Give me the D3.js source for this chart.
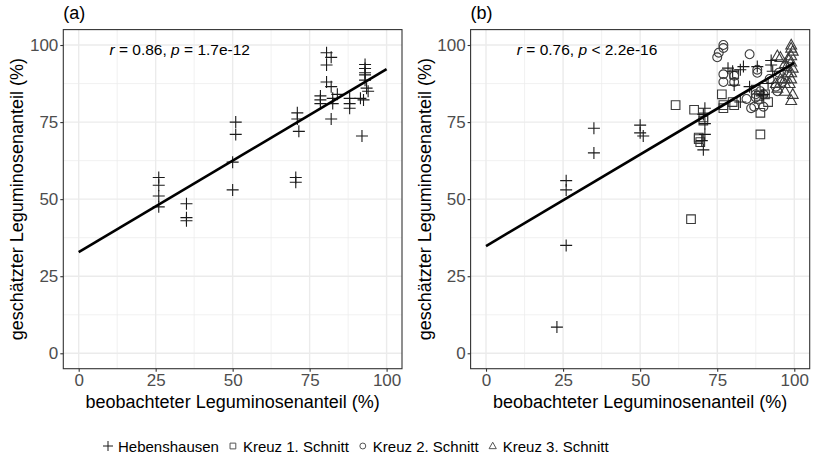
<!DOCTYPE html>
<html>
<head>
<meta charset="utf-8">
<script src="https://cdn.jsdelivr.net/npm/d3@7"></script>
<style>
  body { margin: 0; background: #fff; }
  text { font-family: "Liberation Sans", Arial, sans-serif; }
</style>
</head>
<body>
<div id="chart"></div>
<script>
// --- data ---
const ticks = [0, 25, 50, 75, 100];
const minorTicks = [12.5, 37.5, 62.5, 87.5];
const panelLabels = ["(a)", "(b)"];
const statR = ["0.86", "0.76"];
const statP = ["= 1.7e-12", "< 2.2e-16"];
const sites = ["Hebenshausen", "Kreuz 1. Schnitt", "Kreuz 2. Schnitt", "Kreuz 3. Schnitt"];
const fitIntercept = [32.8, 34.8];
const fitSlope = [0.594, 0.594];

// panel (a): Hebenshausen only
const aObs = [26, 26, 26, 26, 35, 35, 35, 51, 51, 50, 50, 71, 71, 71.5, 70.5, 70.5,
  80.5, 82, 80.5, 80.5, 82, 84, 78.5, 78.5, 78.5, 82.5, 82.5, 82, 88, 88, 88,
  91.5, 92.5, 93, 93, 93, 93, 93, 93.5, 92, 94];
const aEst = [57, 54.5, 51, 47.5, 48.5, 44, 43, 75, 71, 62, 53, 78, 76, 72, 57, 55.5,
  97.5, 96, 93.5, 88, 86.5, 84, 83.5, 82.2, 81, 82.7, 81, 76, 82.7, 81, 79.5,
  82.7, 82.2, 93.7, 92.4, 91, 90.3, 88.6, 86, 70.5, 85];

// panel (b): all sites
const bHebObs = [26, 26, 26, 23, 35, 35, 50, 50, 51, 71, 70.5, 71, 71, 70, 70.5,
  78.5, 80, 82.5, 83.5, 82.5, 85.5, 88, 90, 92.5, 92.5, 93, 91.5, 89.5, 80.5];
const bHebEst = [56, 53, 35, 8.5, 73, 65, 74, 71.5, 70.5, 79.5, 77.5, 74.5, 71, 69, 66,
  92.5, 91.5, 92, 93, 81.5, 86.5, 93, 84, 95, 93.5, 91.5, 87.5, 83.5, 87];
const bK1Obs = [61.5, 67.5, 66.5, 69, 69, 69.5, 70.5, 70.5, 76.5, 77, 77, 80, 80.5, 80.5,
  87.5, 88.5, 88.5, 89, 89, 91.5, 90.5];
const bK1Est = [80.5, 79, 43.5, 70, 69.5, 68.5, 76.5, 75.5, 84, 80.5, 79.5, 81.5, 80.5, 90.5,
  85.5, 83.5, 82.5, 78, 71, 81.5, 84];
const bK2Obs = [77, 77, 75.5, 75, 85.5, 77, 77, 80.5, 80.5, 88, 88, 87.5, 87.5, 87, 89,
  90, 90, 94, 94.5, 96, 95, 92, 84.5, 86];
const bK2Est = [100, 99, 97.5, 96, 97, 90.5, 88, 90, 88, 92, 91, 84, 83, 80, 85,
  84, 80, 86.5, 85, 88, 91, 89, 82.5, 79.5];
const bK3Obs = [99, 99, 99.5, 99, 99, 99.5, 99, 99, 98.5, 99, 97, 99.5, 94.5, 95.5, 97,
  97.5, 97, 97, 95.5, 94, 94.5, 98, 98];
const bK3Est = [100, 99, 98, 96.5, 94.5, 92.5, 91, 89, 87.5, 82, 85, 84, 96.5, 96, 94,
  93, 89, 87.5, 89, 87.5, 86, 91, 95.5];

// --- build point tables ---
const pair = (xs, ys, site) => xs.map((x, i) => ({ obs: x, est: ys[i], site }));
const panelData = [
  pair(aObs, aEst, 0),
  [].concat(pair(bK1Obs, bK1Est, 1), pair(bK2Obs, bK2Est, 2),
            pair(bK3Obs, bK3Est, 3), pair(bHebObs, bHebEst, 0))
];

const W = 813, H = 465;
const svg = d3.select("#chart").append("svg")
  .attr("width", W).attr("height", H);
svg.append("rect").attr("width", W).attr("height", H).attr("fill", "#fff");

// shapes: + , open square, open circle, open triangle
const shapePath = (site, s) => {
  if (site === 0) return `M${-s},0H${s}M0,${-s}V${s}`;
  if (site === 1) { const h = s * 0.72; return `M${-h},${-h}H${h}V${h}H${-h}Z`; }
  if (site === 2) { const r = s * 0.74; return `M${r},0A${r},${r} 0 1,1 ${-r},0A${r},${r} 0 1,1 ${r},0Z`; }
  const t = s * 0.95; return `M0,${-t}L${t * 0.95},${t * 0.7}L${-t * 0.95},${t * 0.7}Z`;
};

const panels = [
  { left: 63.3, right: 402, top: 29.6, bottom: 368.7, yTitleX: 17 },
  { left: 470.6, right: 809.7, top: 29.6, bottom: 368.7, yTitleX: 425 }
];

panels.forEach((p, k) => {
  const x = d3.scaleLinear().domain([-5, 105]).range([p.left, p.right]);
  const y = d3.scaleLinear().domain([-5, 105]).range([p.bottom, p.top]);
  const g = svg.append("g");

  // grid
  g.selectAll(".minx").data(minorTicks).join("line")
    .attr("x1", d => x(d)).attr("x2", d => x(d)).attr("y1", p.top).attr("y2", p.bottom)
    .attr("stroke", "#ebebeb").attr("stroke-width", 0.7);
  g.selectAll(".miny").data(minorTicks).join("line")
    .attr("y1", d => y(d)).attr("y2", d => y(d)).attr("x1", p.left).attr("x2", p.right)
    .attr("stroke", "#ebebeb").attr("stroke-width", 0.7);
  g.selectAll(".majx").data(ticks).join("line")
    .attr("x1", d => x(d)).attr("x2", d => x(d)).attr("y1", p.top).attr("y2", p.bottom)
    .attr("stroke", "#ebebeb").attr("stroke-width", 1.4);
  g.selectAll(".majy").data(ticks).join("line")
    .attr("y1", d => y(d)).attr("y2", d => y(d)).attr("x1", p.left).attr("x2", p.right)
    .attr("stroke", "#ebebeb").attr("stroke-width", 1.4);

  // points
  g.selectAll(".pt").data(panelData[k]).join("path")
    .attr("transform", d => `translate(${x(d.obs)},${y(d.est)})`)
    .attr("d", d => shapePath(d.site, 6))
    .attr("fill", "none")
    .attr("stroke", d => d.site === 0 ? "#1a1a1a" : "#3a3a3a")
    .attr("stroke-width", 1.1);

  // regression line
  const fit = v => fitIntercept[k] + fitSlope[k] * v;
  g.append("line")
    .attr("x1", x(0)).attr("y1", y(fit(0)))
    .attr("x2", x(100)).attr("y2", y(fit(100)))
    .attr("stroke", "#000").attr("stroke-width", 2.6);

  // border
  g.append("rect")
    .attr("x", p.left).attr("y", p.top)
    .attr("width", p.right - p.left).attr("height", p.bottom - p.top)
    .attr("fill", "none").attr("stroke", "#333").attr("stroke-width", 1.1);

  // axes
  const xAxis = g.append("g").attr("transform", `translate(0,${p.bottom})`)
    .call(d3.axisBottom(x).tickValues(ticks).tickSize(3).tickPadding(2));
  const yAxis = g.append("g").attr("transform", `translate(${p.left},0)`)
    .call(d3.axisLeft(y).tickValues(ticks).tickSize(3).tickPadding(2));
  [xAxis, yAxis].forEach(a => {
    a.select(".domain").remove();
    a.selectAll("line").attr("stroke", "#333").attr("stroke-width", 1.1);
    a.selectAll("text").attr("fill", "#4d4d4d")
      .style("font-size", "17px").style("font-family", "'Liberation Sans', Arial, sans-serif");
  });

  // axis titles
  g.append("text")
    .attr("x", (p.left + p.right) / 2).attr("y", 408)
    .attr("text-anchor", "middle").style("font-size", "18px")
    .text("beobachteter Leguminosenanteil (%)");
  g.append("text")
    .attr("transform", `translate(${p.yTitleX + 6},${(p.top + p.bottom) / 2}) rotate(-90)`)
    .attr("text-anchor", "middle").style("font-size", "18px")
    .text("geschätzter Leguminosenanteil (%)");

  // panel tag
  g.append("text").attr("x", p.left).attr("y", 19)
    .style("font-size", "18px").text(panelLabels[k]);

  // correlation annotation
  const ann = g.append("text").attr("x", x(10)).attr("y", 55).style("font-size", "15.5px");
  ann.append("tspan").style("font-style", "italic").text("r");
  ann.append("tspan").text(` = ${statR[k]}, `);
  ann.append("tspan").style("font-style", "italic").text("p");
  ann.append("tspan").text(` ${statP[k]}`);
});

// legend
const legend = svg.append("g");
let lx = 104;
sites.forEach((s, i) => {
  legend.append("path")
    .attr("transform", `translate(${lx + 4},446)`)
    .attr("d", shapePath(i, i === 0 ? 5 : 4))
    .attr("fill", "none").attr("stroke", i === 0 ? "#1a1a1a" : "#555").attr("stroke-width", 1);
  const t = legend.append("text").attr("x", lx + 14).attr("y", 452)
    .style("font-size", "15px").text(s);
  lx += 14 + t.node().getComputedTextLength() + 10;
});
</script>
</body>
</html>
